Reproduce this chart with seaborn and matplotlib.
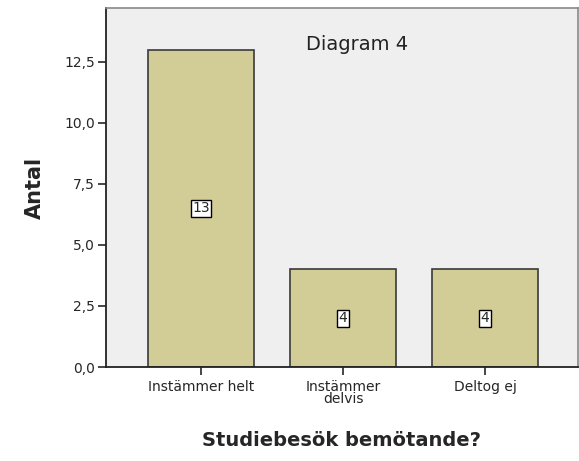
import matplotlib
matplotlib.use("Agg")
import matplotlib.pyplot as plt
import seaborn as sns
import pandas as pd

# Data
kategorier = ['Instämmer helt', 'Instämmer\ndelvis', 'Deltog ej']
antal = [13, 4, 4]

df = pd.DataFrame({'svar': kategorier, 'antal': antal})

sns.set_style('white')
plt.rcParams['font.family'] = ['DejaVu Sans']

fig = plt.figure(figsize=(5.79, 4.61), dpi=100)
ax = fig.add_axes([106/579, 94/461, 472/579, 359/461])
ax.set_facecolor('#efefef')

sns.barplot(data=df, x='svar', y='antal', color='#d2cd96', width=0.75,
            edgecolor='#3a3a3a', linewidth=1.2, saturation=1, ax=ax)

# Etiketter mitt i staplarna
for i, v in enumerate(antal):
    ax.text(i, v / 2, str(v), ha='center', va='center', fontsize=10,
            bbox=dict(boxstyle='square,pad=0.1', fc='white', ec='black', lw=1))

ax.text(1.1, 13.2, 'Diagram 4', ha='center', va='center', fontsize=14, color='#222222')

ax.set_xlim(-0.67, 2.655)
ax.set_ylim(0, 14.7)
ax.set_yticks([0, 2.5, 5, 7.5, 10, 12.5])
ax.set_yticklabels(['0,0', '2,5', '5,0', '7,5', '10,0', '12,5'], fontsize=10)
ax.tick_params(axis='x', labelsize=10, length=6, width=1.2, direction='out', bottom=True, pad=3)
ax.tick_params(axis='y', length=6, width=1.2, direction='out', left=True, pad=2)
for lbl in ax.get_xticklabels():
    lbl.set_linespacing(0.85)

ax.set_ylabel('Antal', fontsize=15, fontweight='bold', labelpad=14)
ax.set_xlabel('Studiebesök bemötande?', fontsize=14, fontweight='bold', labelpad=18)

for s in ['left', 'bottom']:
    ax.spines[s].set_color('#222222')
    ax.spines[s].set_linewidth(1.3)
for s in ['top', 'right']:
    ax.spines[s].set_color('#888888')
    ax.spines[s].set_linewidth(1.2)

fig.savefig('out.png', dpi=100)
